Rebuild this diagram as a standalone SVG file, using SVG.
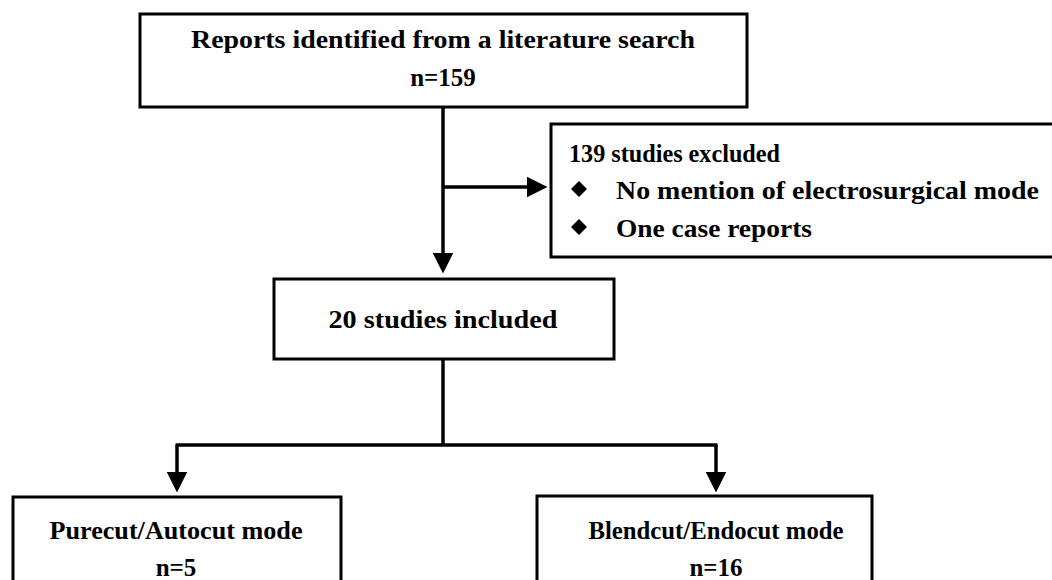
<svg xmlns="http://www.w3.org/2000/svg" width="1052" height="580" viewBox="0 0 1052 580">
<style>
.box{fill:#fff;stroke:#000;stroke-width:3}
.ln{fill:none;stroke:#000;stroke-width:3.5}
text{font-family:"Liberation Serif","DejaVu Serif",serif;font-weight:bold;font-size:25px;fill:#000}
.c{text-anchor:middle}
</style>
<defs>
<marker id="ah" markerWidth="6" markerHeight="6" refX="5" refY="3" orient="auto" markerUnits="strokeWidth">
<path d="M0,0 L6,3 L0,6 Z" fill="#000"/>
</marker>
</defs>
<rect width="1052" height="580" fill="#fff"/>
<g id="connectors">
<line class="ln" x1="443" y1="107" x2="443" y2="270" marker-end="url(#ah)"/>
<line class="ln" x1="443" y1="187" x2="544" y2="187" marker-end="url(#ah)"/>
<line class="ln" x1="443" y1="359" x2="443" y2="445"/>
<line class="ln" x1="175.5" y1="445" x2="717.5" y2="445"/>
<line class="ln" x1="177" y1="445" x2="177" y2="489" marker-end="url(#ah)"/>
<line class="ln" x1="716" y1="445" x2="716" y2="489" marker-end="url(#ah)"/>
</g>
<g id="n-reports">
<rect class="box" x="140" y="14" width="607" height="93"/>
<text class="c" x="443" y="48" textLength="504" lengthAdjust="spacingAndGlyphs">Reports identified from a literature search</text>
<text class="c" x="443" y="86">n=159</text>
</g>
<g id="n-excluded">
<rect class="box" x="551" y="124" width="510" height="133"/>
<text x="569" y="162" textLength="211" lengthAdjust="spacingAndGlyphs">139 studies excluded</text>
<path d="M579,181 L587,189 L579,197 L571,189 Z" fill="#000"/>
<text x="616" y="199" textLength="423" lengthAdjust="spacingAndGlyphs">No mention of electrosurgical mode</text>
<path d="M579,219 L587,227 L579,235 L571,227 Z" fill="#000"/>
<text x="616" y="237" textLength="196" lengthAdjust="spacingAndGlyphs">One case reports</text>
</g>
<g id="n-included">
<rect class="box" x="274" y="279" width="340" height="80"/>
<text class="c" x="443" y="328" textLength="229" lengthAdjust="spacingAndGlyphs">20 studies included</text>
</g>
<g id="n-purecut">
<rect class="box" x="13" y="497" width="328" height="100"/>
<text class="c" x="176" y="539" textLength="253" lengthAdjust="spacingAndGlyphs">Purecut/Autocut mode</text>
<text class="c" x="176" y="576">n=5</text>
</g>
<g id="n-blendcut">
<rect class="box" x="537" y="496" width="335" height="100"/>
<text class="c" x="716" y="539" textLength="255" lengthAdjust="spacingAndGlyphs">Blendcut/Endocut mode</text>
<text class="c" x="716" y="576">n=16</text>
</g>
</svg>
